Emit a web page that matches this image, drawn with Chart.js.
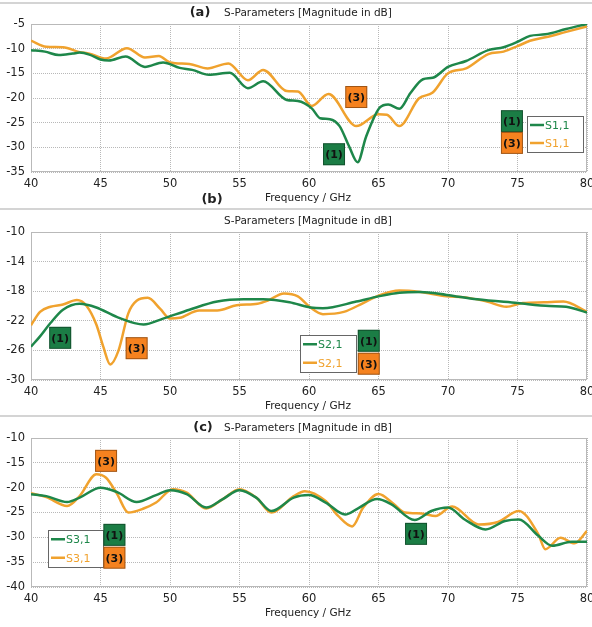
<!DOCTYPE html>
<html>
<head>
<meta charset="utf-8">
<script src="https://cdn.jsdelivr.net/npm/chart.js@4.4.1/dist/chart.umd.min.js"></script>
<style>
  body { margin: 0; background: #fff; width: 592px; height: 627px; position: relative; overflow: hidden; }
  .panel { position: absolute; left: 0; width: 592px; }
  .sep { position: absolute; left: 0; width: 592px; height: 0; border-top: 2px solid #d4d4d4; }
</style>
</head>
<body>
<div class="sep" style="top:2px"></div>
<div class="sep" style="top:208px"></div>
<div class="sep" style="top:415px"></div>
<div class="panel" style="top:0"><canvas id="chartA" width="592" height="207"></canvas></div>
<div class="panel" style="top:207px"><canvas id="chartB" width="592" height="209"></canvas></div>
<div class="panel" style="top:416px"><canvas id="chartC" width="592" height="211"></canvas></div>
<script>
// (a) S1,1 -- frequência em GHz, magnitude em dB
const freqA1 = [40, 41, 42, 43, 43.5, 44.2, 45, 45.6, 46.8, 48.2, 49.5, 50.7, 51.6, 52.8, 54.3, 55.6, 56.7, 58.4, 59.2, 60.2, 60.8, 61.5, 62.2, 62.9, 63.5, 64.1, 65.1, 65.7, 66.5, 67.3, 68.2, 68.9, 70, 71.3, 72.9, 74, 75, 75.9, 77, 78.5, 80];
const s11Case1 = [-10.3, -10.6, -11.3, -11.0, -10.8, -11.2, -12.2, -12.4, -11.6, -13.7, -12.8, -13.9, -14.3, -15.3, -14.9, -18.0, -16.6, -20.4, -20.6, -22.1, -24.1, -24.3, -25.7, -29.9, -33.0, -27.9, -21.9, -21.3, -22.2, -19.0, -16.2, -15.9, -13.7, -12.5, -10.3, -9.7, -8.6, -7.4, -7.1, -6.0, -5.0];
const freqA3 = [40, 41.1, 42.3, 43.5, 44.2, 45.4, 46.9, 48.2, 49.2, 50, 51.4, 52.7, 54.2, 55.6, 56.7, 58.4, 59.2, 60.2, 61.4, 63.4, 65, 65.6, 66.5, 67.9, 68.9, 70, 71.3, 72.9, 74, 75, 75.9, 77, 78.5, 80];
const s11Case3 = [-8.4, -9.6, -9.7, -10.7, -11.0, -12.0, -9.9, -11.8, -11.5, -12.8, -13.1, -14.0, -13.0, -16.4, -14.3, -18.6, -18.7, -21.6, -19.2, -25.7, -23.3, -23.4, -25.7, -20.1, -18.9, -15.0, -14.0, -11.1, -10.6, -9.5, -8.4, -7.7, -6.6, -5.5];

// (b) S2,1
const freqB1 = [40, 40.65, 41.4, 42.3, 43.5, 44.7, 46.2, 48.1, 49.5, 51.4, 53.4, 55.3, 56.7, 58.6, 60.1, 61, 63.4, 65, 66.5, 68, 69.9, 72.1, 75, 77.3, 78.5, 80];
const s21Case1 = [-25.5, -24.1, -22.3, -20.5, -19.7, -20.2, -21.5, -22.5, -21.7, -20.5, -19.4, -19.1, -19.1, -19.5, -20.2, -20.3, -19.4, -18.7, -18.2, -18.1, -18.5, -19.1, -19.6, -20.0, -20.1, -20.9];
const freqB3 = [40, 40.65, 41.4, 42.3, 43.3, 44, 44.7, 45.2, 45.7, 46.3, 47, 47.6, 48.4, 49.3, 50, 50.7, 52.1, 53.4, 54.8, 56.3, 57, 58.2, 59.2, 60.1, 61, 62.5, 63.9, 65, 66.5, 68, 69.9, 71.1, 72.8, 74.2, 75.4, 76.9, 78.3, 80];
const s21Case3 = [-22.6, -20.8, -20.1, -19.8, -19.2, -20.0, -22.5, -25.5, -27.9, -26.0, -21.0, -19.3, -18.9, -20.4, -21.7, -21.6, -20.6, -20.6, -19.9, -19.7, -19.3, -18.3, -18.7, -20.2, -21.1, -20.8, -19.6, -18.6, -17.9, -18.1, -18.7, -18.8, -19.4, -20.1, -19.6, -19.5, -19.4, -20.8];

// (c) S3,1
const freqC1 = [40, 41.1, 42.6, 43.5, 45, 46.2, 47.6, 49, 50, 51.2, 52.6, 53.8, 55, 56.2, 57.3, 58.9, 60, 61.2, 62.6, 63.5, 64.9, 65.9, 67.6, 68.8, 70, 71.2, 72.7, 74.1, 75.1, 76.5, 77.5, 78.9, 80];
const s31Case1 = [-21.3, -21.7, -22.9, -22.0, -20.0, -20.9, -22.9, -21.5, -20.5, -21.3, -24.0, -22.3, -20.5, -22.0, -24.7, -22.0, -21.5, -23.0, -25.4, -24.2, -22.3, -23.3, -26.5, -24.7, -24.0, -26.4, -28.4, -26.7, -26.4, -29.7, -31.7, -30.9, -30.9];
const freqC3 = [40, 41.1, 42.6, 43.5, 44.7, 45.4, 46.2, 47, 48.1, 49, 50.2, 51.2, 52.6, 53.8, 55, 56.2, 57.3, 58.9, 59.7, 61.2, 62.1, 63.1, 63.9, 65, 66.1, 66.9, 68.1, 69.1, 70.3, 72.2, 73.6, 75.1, 76.5, 77, 78.1, 79.1, 80];
const s31Case3 = [-21.1, -21.9, -23.7, -21.7, -17.3, -18.0, -21.3, -25.0, -24.2, -23.0, -20.3, -21.0, -24.2, -22.3, -20.3, -22.0, -25.0, -21.7, -20.7, -22.7, -25.7, -27.8, -24.0, -21.3, -23.3, -25.0, -25.2, -25.7, -23.8, -27.4, -26.9, -24.7, -29.4, -32.4, -30.1, -31.2, -28.7];

const freqTicks = [40, 45, 50, 55, 60, 65, 70, 75, 80];

const VERDE = '#1e874a';
const LARANJA = '#f0a22e';
const CAIXA_VERDE = '#1b7d45';
const CAIXA_LARANJA = '#f5821f';
const FONTE = '"DejaVu Sans", sans-serif';

Chart.defaults.font.family = FONTE;
Chart.defaults.color = '#222';

function pares(xs, ys) {
    return xs.map((x, i) => ({ x: x, y: ys[i] }));
}

function caixinha(ctx, cx, cy, texto, cor) {
    ctx.fillStyle = cor;
    ctx.fillRect(cx - 11, cy - 11, 22, 22);
    ctx.strokeStyle = 'rgba(0,0,0,0.35)';
    ctx.lineWidth = 1;
    ctx.strokeRect(cx - 10.5, cy - 10.5, 21, 21);
    ctx.fillStyle = '#111';
    ctx.font = 'bold 11px ' + FONTE;
    ctx.textAlign = 'center';
    ctx.textBaseline = 'middle';
    ctx.fillText(texto, cx, cy + 1);
}

// moldura da área do gráfico (cinza claro, sólida)
const moldura = {
    id: 'moldura',
    beforeDatasetsDraw(chart) {
        const a = chart.chartArea, ctx = chart.ctx;
        ctx.save();
        ctx.strokeStyle = '#b9b9b9';
        ctx.lineWidth = 1;
        ctx.strokeRect(a.left + 0.5, a.top + 0.5, a.right - a.left - 1, a.bottom - a.top - 1);
        ctx.restore();
    }
};

// títulos, etiquetas (1)/(3) e legenda
const extras = {
    id: 'extras',
    afterDraw(chart, args, opts) {
        const ctx = chart.ctx, xs = chart.scales.x, ys = chart.scales.y, a = chart.chartArea;
        const meio = (a.left + a.right) / 2 - 1;
        ctx.save();
        ctx.fillStyle = '#222';
        ctx.font = '10.5px ' + FONTE;
        ctx.textAlign = 'center';
        ctx.textBaseline = 'middle';
        ctx.fillText('S-Parameters [Magnitude in dB]', meio, opts.tituloY);
        ctx.fillText('Frequency / GHz', meio, opts.eixoY);
        ctx.font = 'bold 13px ' + FONTE;
        opts.letras.forEach(l => ctx.fillText(l.t, l.x, l.y));

        opts.etiquetas.forEach(e => {
            caixinha(ctx, xs.getPixelForValue(e.f), ys.getPixelForValue(e.v), e.t, e.cor);
        });

        const L = opts.legenda;
        const x0 = Math.round(xs.getPixelForValue(L.f0)), x1 = Math.round(xs.getPixelForValue(L.f1));
        const y0 = Math.round(ys.getPixelForValue(L.v0)), y1 = Math.round(ys.getPixelForValue(L.v1));
        ctx.fillStyle = '#fff';
        ctx.fillRect(x0, y0, x1 - x0, y1 - y0);
        ctx.strokeStyle = '#666';
        ctx.lineWidth = 1;
        ctx.strokeRect(x0 + 0.5, y0 + 0.5, x1 - x0, y1 - y0);
        const linhas = [
            { cor: VERDE, y: y0 + (y1 - y0) * 0.25 },
            { cor: LARANJA, y: y0 + (y1 - y0) * 0.75 }
        ];
        ctx.font = '11px ' + FONTE;
        ctx.textAlign = 'left';
        linhas.forEach(l => {
            ctx.strokeStyle = l.cor;
            ctx.lineWidth = 2.5;
            ctx.beginPath();
            ctx.moveTo(x0 + 3, l.y);
            ctx.lineTo(x0 + 17, l.y);
            ctx.stroke();
            ctx.fillStyle = l.cor;
            ctx.fillText(L.nome, x0 + 18, l.y + 1);
        });
        L.caixas.forEach(c => {
            caixinha(ctx, xs.getPixelForValue(c.f), ys.getPixelForValue(c.v), c.t, c.cor);
        });
        ctx.restore();
    }
};

function montaGrafico(id, cfg) {
    const ctx = document.getElementById(id).getContext('2d');
    return new Chart(ctx, {
        type: 'line',
        data: {
            datasets: [
                { label: cfg.nome + ' (1)', data: pares(cfg.f1, cfg.s1), borderColor: VERDE, borderWidth: 2.5 },
                { label: cfg.nome + ' (3)', data: pares(cfg.f3, cfg.s3), borderColor: LARANJA, borderWidth: 2.5 }
            ]
        },
        options: {
            responsive: false,
            animation: false,
            parsing: false,
            elements: {
                point: { radius: 0 },
                line: { cubicInterpolationMode: 'monotone', fill: false }
            },
            layout: { padding: { top: cfg.topo, right: 5, left: 0, bottom: 0 } },
            plugins: {
                legend: { display: false },
                tooltip: { enabled: false },
                extras: cfg.extras
            },
            scales: {
                x: {
                    type: 'linear',
                    min: 40, max: 80,
                    afterBuildTicks: s => { s.ticks = freqTicks.map(v => ({ value: v })); },
                    afterFit: s => { s.height = cfg.alturaX; s.paddingLeft = 0; s.paddingRight = 0; },
                    grid: { color: '#b8b8b8', lineWidth: 1, drawTicks: false },
                    border: { display: false, dash: [1, 1] },
                    ticks: { font: { size: 11.5 }, color: '#222', padding: 5, maxRotation: 0 }
                },
                y: {
                    min: cfg.yMin, max: cfg.yMax,
                    ticks: {
                        stepSize: cfg.passo,
                        font: { size: 11.5 }, color: '#222', padding: 6,
                        callback: cfg.rotulo || (v => v)
                    },
                    afterFit: s => { s.width = 31; s.paddingTop = 0; s.paddingBottom = 0; },
                    grid: { color: '#b8b8b8', lineWidth: 1, drawTicks: false },
                    border: { display: false, dash: [1, 1] }
                }
            }
        },
        plugins: [moldura, extras]
    });
}

montaGrafico('chartA', {
    nome: 'S1,1', f1: freqA1, s1: s11Case1, f3: freqA3, s3: s11Case3,
    yMin: -35, yMax: -5, passo: 5, topo: 24, alturaX: 35,
    extras: {
        tituloY: 13, eixoY: 198,
        letras: [{ t: '(a)', x: 200, y: 13 }, { t: '(b)', x: 212, y: 200 }],
        etiquetas: [
            { t: '(1)', f: 61.8, v: -31.4, cor: CAIXA_VERDE },
            { t: '(3)', f: 63.4, v: -19.8, cor: CAIXA_LARANJA }
        ],
        legenda: {
            nome: 'S1,1', f0: 75.7, f1: 79.7, v0: -23.7, v1: -31.0,
            caixas: [
                { t: '(1)', f: 74.6, v: -24.7, cor: CAIXA_VERDE },
                { t: '(3)', f: 74.6, v: -29.1, cor: CAIXA_LARANJA }
            ]
        }
    }
});

montaGrafico('chartB', {
    nome: 'S2,1', f1: freqB1, s1: s21Case1, f3: freqB3, s3: s21Case3,
    yMin: -30, yMax: -10, passo: 2, topo: 25, alturaX: 36,
    rotulo: v => ((v + 10) % 4 === 0 ? v : ''),
    extras: {
        tituloY: 14, eixoY: 199,
        letras: [],
        etiquetas: [
            { t: '(1)', f: 42.1, v: -24.3, cor: CAIXA_VERDE },
            { t: '(3)', f: 47.6, v: -25.7, cor: CAIXA_LARANJA }
        ],
        legenda: {
            nome: 'S2,1', f0: 59.35, f1: 63.4, v0: -23.9, v1: -28.9,
            caixas: [
                { t: '(1)', f: 64.3, v: -24.7, cor: CAIXA_VERDE },
                { t: '(3)', f: 64.3, v: -27.8, cor: CAIXA_LARANJA }
            ]
        }
    }
});

montaGrafico('chartC', {
    nome: 'S3,1', f1: freqC1, s1: s31Case1, f3: freqC3, s3: s31Case3,
    yMin: -40, yMax: -10, passo: 5, topo: 22, alturaX: 40,
    extras: {
        tituloY: 12, eixoY: 197,
        letras: [{ t: '(c)', x: 203, y: 12 }],
        etiquetas: [
            { t: '(3)', f: 45.4, v: -14.6, cor: CAIXA_LARANJA },
            { t: '(1)', f: 67.7, v: -29.3, cor: CAIXA_VERDE }
        ],
        legenda: {
            nome: 'S3,1', f0: 41.2, f1: 45.2, v0: -28.5, v1: -35.9,
            caixas: [
                { t: '(1)', f: 46.0, v: -29.5, cor: CAIXA_VERDE },
                { t: '(3)', f: 46.0, v: -34.1, cor: CAIXA_LARANJA }
            ]
        }
    }
});
</script>
</body>
</html>
